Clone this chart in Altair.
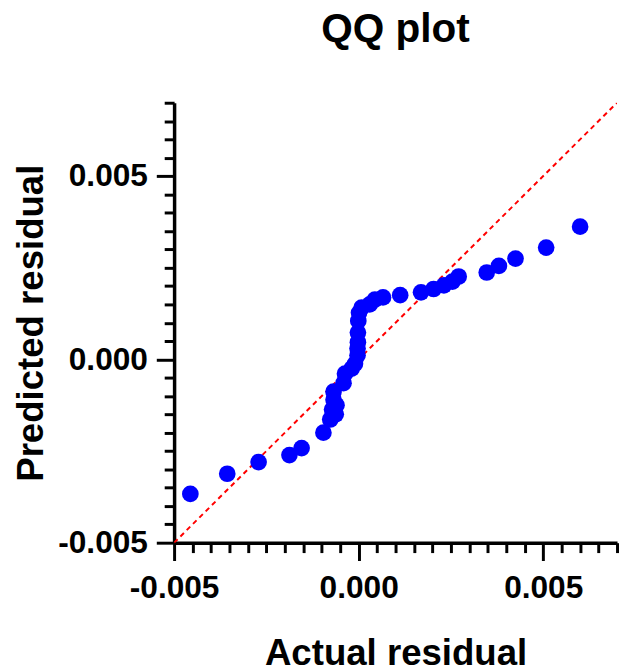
import altair as alt
import pandas as pd

# Data (values in units of 1e-3)
actual = [-4.56, -3.56, -2.71, -1.875, -1.545, -0.955, -0.77, -0.72, -0.68, -0.68,
          -0.62, -0.60, -0.41, -0.37, -0.19, -0.10, -0.03, -0.03, -0.02, -0.02,
          -0.01, 0.01, 0.08, 0.30, 0.44, 0.66, 1.125, 1.69, 2.03, 2.31,
          2.54, 2.71, 3.47, 3.80, 4.25, 5.08, 6.00]
predicted = [-3.67, -3.12, -2.80, -2.61, -2.42, -2.00, -1.64, -1.37, -1.10, -0.88,
             -1.50, -1.25, -0.65, -0.39, -0.25, -0.12, 0.11, 0.30, 0.47, 0.73,
             1.05, 1.27, 1.41, 1.50, 1.63, 1.69, 1.75, 1.83, 1.92, 2.02,
             2.12, 2.26, 2.37, 2.55, 2.75, 3.05, 3.62]
line_x = [-0.005, 0.007]
line_y = [-0.005, 0.007]
tick_values = [-0.005, -0.0045, -0.004, -0.0035, -0.003, -0.0025, -0.002, -0.0015,
               -0.001, -0.0005, 0.0, 0.0005, 0.001, 0.0015, 0.002, 0.0025, 0.003,
               0.0035, 0.004, 0.0045, 0.005, 0.0055, 0.006, 0.0065, 0.007]

pts = pd.DataFrame({"x": [v / 1000 for v in actual], "y": [v / 1000 for v in predicted]})
ref = pd.DataFrame({"x": line_x, "y": line_y})

FONT = "Liberation Sans"
major = "abs(datum.value / 0.005 - round(datum.value / 0.005)) < 0.01"
lab = f"({major}) ? (datum.value < -0.00001 ? '-' + format(-datum.value, '.3f') : format(abs(datum.value), '.3f')) : ''"

def axis(title, orient, title_pad, label_pad):
    return alt.Axis(
        title=title, orient=orient, values=tick_values, tickCount=40, labelExpr=lab,
        grid=False, domainColor="black", domainWidth=3.5, tickColor="black",
        tickWidth=3,
        tickSize={"condition": {"test": major, "value": 18}, "value": 10},
        labelFont=FONT, labelFontSize=32, labelFontWeight="bold", labelColor="black",
        labelPadding=label_pad, labelOverlap=False, labelFlush=False,
        titleFont=FONT, titleFontSize=37, titleFontWeight="bold", titleColor="black",
        titlePadding=title_pad,
    )

xs = alt.Scale(domain=[-0.005, 0.007], nice=False, zero=False)
ys = alt.Scale(domain=[-0.005, 0.007], nice=False, zero=False)

line = alt.Chart(ref).mark_line(color="#ff0000", strokeWidth=2, strokeDash=[5, 4], clip=True).encode(
    x=alt.X("x:Q", scale=xs, axis=axis("Actual residual", "bottom", 33, 12)),
    y=alt.Y("y:Q", scale=ys, axis=axis("Predicted residual", "left", 7, 9)),
)
points = alt.Chart(pts).mark_circle(color="#0000ff", opacity=1, size=285).encode(
    x=alt.X("x:Q", scale=xs),
    y=alt.Y("y:Q", scale=ys),
)

chart = alt.layer(line, points).properties(
    width=448, height=445,
    title=alt.TitleParams("QQ plot", font=FONT, fontSize=41, fontWeight="bold",
                          color="black", anchor="middle", offset=36),
    padding={"left": 5, "top": -2, "right": 0, "bottom": 0},
).configure_view(stroke=None)

chart.save("out.html", embed_options={"renderer": "svg", "actions": False})
